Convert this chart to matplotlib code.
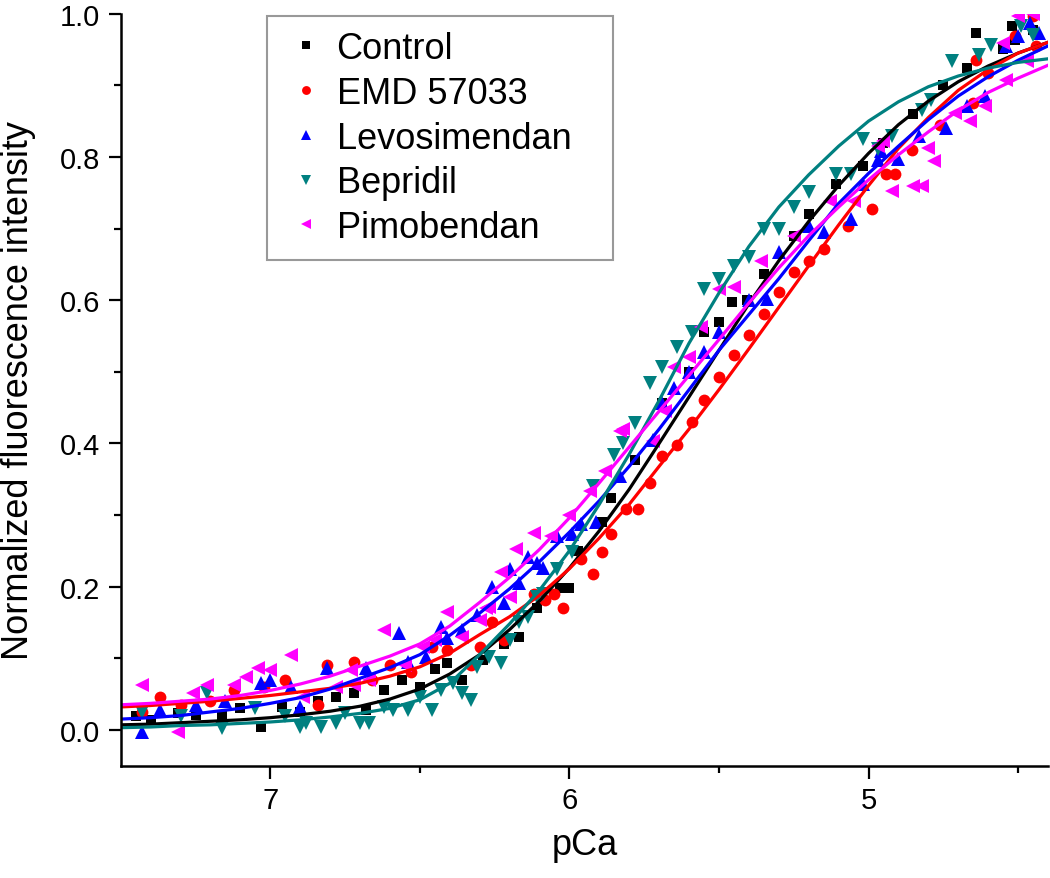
import matplotlib
matplotlib.use("Agg")
import matplotlib.pyplot as plt
from matplotlib.ticker import FixedLocator, FormatStrFormatter

plt.rcParams['font.family'] = ['Liberation Sans', 'DejaVu Sans']

# fitted curves on a 0.1 pCa grid
fit_pca = [7.5, 7.4, 7.3, 7.2, 7.1, 7.0, 6.9, 6.8, 6.7, 6.6, 6.5, 6.4, 6.3, 6.2, 6.1, 6.0,
           5.9, 5.8, 5.7, 5.6, 5.5, 5.4, 5.3, 5.2, 5.1, 5.0, 4.9, 4.8, 4.7, 4.6, 4.5, 4.4]
fit_control = [0.007, 0.008, 0.010, 0.012, 0.014, 0.017, 0.021, 0.026, 0.033, 0.043, 0.057, 0.078, 0.105, 0.14, 0.18, 0.226,
               0.278, 0.336, 0.40, 0.465, 0.53, 0.595, 0.655, 0.71, 0.76, 0.805, 0.845, 0.878, 0.905, 0.927, 0.945, 0.96]
fit_emd = [0.032, 0.034, 0.037, 0.040, 0.044, 0.048, 0.053, 0.058, 0.065, 0.075, 0.088, 0.107, 0.133, 0.158, 0.188, 0.225,
           0.268, 0.315, 0.368, 0.42, 0.475, 0.532, 0.59, 0.648, 0.705, 0.76, 0.812, 0.855, 0.893, 0.922, 0.945, 0.96]
fit_levo = [0.015, 0.017, 0.02, 0.025, 0.03, 0.037, 0.045, 0.057, 0.072, 0.087, 0.105, 0.132, 0.163, 0.197, 0.235, 0.276,
            0.32, 0.368, 0.42, 0.475, 0.53, 0.58, 0.63, 0.683, 0.735, 0.777, 0.815, 0.852, 0.885, 0.912, 0.935, 0.955]
fit_bep = [0.003, 0.004, 0.006, 0.007, 0.009, 0.011, 0.014, 0.018, 0.023, 0.03, 0.042, 0.065, 0.105, 0.148, 0.195, 0.25,
           0.315, 0.385, 0.46, 0.54, 0.61, 0.675, 0.73, 0.775, 0.815, 0.85, 0.877, 0.898, 0.913, 0.924, 0.932, 0.937]
fit_pimo = [0.035, 0.037, 0.04, 0.043, 0.048, 0.055, 0.064, 0.075, 0.089, 0.103, 0.12, 0.145, 0.178, 0.213, 0.252, 0.296,
            0.345, 0.395, 0.445, 0.495, 0.545, 0.596, 0.645, 0.69, 0.73, 0.768, 0.803, 0.835, 0.865, 0.89, 0.91, 0.928]

# measured points
control_x = [7.45, 7.40, 7.31, 7.25, 7.16, 7.10, 7.03, 6.96, 6.90, 6.84, 6.78, 6.72, 6.68, 6.62, 6.56, 6.50,
             6.45, 6.41, 6.36, 6.29, 6.22, 6.17, 6.11, 6.03, 6.00, 5.97, 5.89, 5.86, 5.78, 5.69, 5.60, 5.55,
             5.50, 5.455, 5.405, 5.35, 5.25, 5.20, 5.11, 5.02, 4.95, 4.85, 4.75, 4.67, 4.64, 4.55, 4.52, 4.51, 4.45]
control_y = [0.02, 0.014, 0.024, 0.021, 0.021, 0.03, 0.004, 0.032, 0.025, 0.04, 0.046, 0.052, 0.028, 0.055, 0.07, 0.06,
             0.085, 0.094, 0.07, 0.098, 0.12, 0.13, 0.17, 0.198, 0.198, 0.25, 0.29, 0.324, 0.377, 0.457, 0.50, 0.555,
             0.569, 0.598, 0.60, 0.636, 0.689, 0.72, 0.762, 0.787, 0.82, 0.86, 0.90, 0.924, 0.973, 0.95, 0.983, 0.963, 0.977]

emd_x = [7.43, 7.37, 7.30, 7.20, 7.12, 7.02, 6.95, 6.84, 6.81, 6.72, 6.66, 6.60, 6.53, 6.46, 6.41, 6.33, 6.30,
         6.26, 6.22, 6.12, 6.08, 6.05, 6.02, 5.96, 5.92, 5.89, 5.86, 5.81, 5.77, 5.73, 5.69, 5.64, 5.59, 5.55,
         5.50, 5.45, 5.40, 5.35, 5.30, 5.25, 5.20, 5.15, 5.07, 4.99, 4.94, 4.91, 4.855, 4.76, 4.65, 4.64, 4.60,
         4.51, 4.45, 4.44]
emd_y = [0.025, 0.046, 0.035, 0.04, 0.056, 0.06, 0.07, 0.035, 0.091, 0.095, 0.07, 0.091, 0.081, 0.116, 0.112, 0.091, 0.116,
         0.151, 0.126, 0.19, 0.182, 0.19, 0.17, 0.238, 0.217, 0.249, 0.273, 0.308, 0.308, 0.345, 0.382, 0.398, 0.43, 0.461,
         0.492, 0.524, 0.552, 0.58, 0.611, 0.64, 0.654, 0.671, 0.703, 0.727, 0.776, 0.776, 0.81, 0.844, 0.875, 0.935, 0.917,
         0.969, 0.997, 0.955]

levo_x = [7.43, 7.37, 7.25, 7.15, 7.03, 7.00, 6.93, 6.90, 6.81, 6.68, 6.57, 6.54, 6.48, 6.43, 6.41, 6.36, 6.31,
          6.26, 6.22, 6.20, 6.17, 6.14, 6.11, 6.09, 6.04, 5.99, 5.96, 5.91, 5.83, 5.72, 5.69, 5.65, 5.60, 5.55,
          5.50, 5.40, 5.34, 5.30, 5.20, 5.15, 5.06, 5.02, 4.97, 4.96, 4.90, 4.83, 4.74, 4.67, 4.61, 4.54, 4.50,
          4.46, 4.43]
levo_y = [-0.003, 0.028, 0.035, 0.04, 0.066, 0.07, 0.06, 0.032, 0.087, 0.087, 0.135, 0.095, 0.102, 0.144, 0.128, 0.14, 0.16,
          0.2, 0.177, 0.224, 0.205, 0.242, 0.233, 0.226, 0.27, 0.273, 0.287, 0.29, 0.354, 0.405, 0.457, 0.478, 0.50, 0.527,
          0.555, 0.60, 0.601, 0.667, 0.703, 0.695, 0.713, 0.762, 0.795, 0.808, 0.797, 0.829, 0.84, 0.871, 0.885, 0.955, 0.969,
          0.987, 0.973]

bep_x = [7.43, 7.30, 7.21, 7.16, 7.05, 6.95, 6.90, 6.88, 6.83, 6.78, 6.75, 6.70, 6.67, 6.62, 6.59, 6.54, 6.50,
         6.46, 6.43, 6.39, 6.36, 6.33, 6.31, 6.27, 6.23, 6.20, 6.17, 6.14, 6.11, 6.09, 6.04, 5.99, 5.92, 5.85,
         5.82, 5.78, 5.73, 5.69, 5.64, 5.59, 5.55, 5.50, 5.45, 5.40, 5.35, 5.30, 5.25, 5.20, 5.11, 5.06, 5.02,
         4.97, 4.92, 4.82, 4.79, 4.72, 4.63, 4.59, 4.49, 4.45]
bep_y = [0.025, 0.02, 0.052, 0.003, 0.03, 0.02, 0.004, 0.01, 0.004, 0.01, 0.024, 0.01, 0.01, 0.032, 0.028, 0.028, 0.046,
         0.028, 0.056, 0.066, 0.052, 0.042, 0.088, 0.102, 0.094, 0.126, 0.15, 0.158, 0.186, 0.19, 0.224, 0.249, 0.34, 0.384,
         0.40, 0.429, 0.485, 0.507, 0.534, 0.555, 0.615, 0.629, 0.647, 0.66, 0.699, 0.699, 0.73, 0.751, 0.776, 0.776, 0.825,
         0.811, 0.829, 0.865, 0.879, 0.934, 0.942, 0.956, 0.983, 0.97]

pimo_x = [7.43, 7.31, 7.26, 7.21, 7.12, 7.08, 7.04, 7.00, 6.93, 6.89, 6.78, 6.73, 6.72, 6.67, 6.62, 6.55, 6.49,
          6.45, 6.41, 6.36, 6.30, 6.28, 6.27, 6.23, 6.20, 6.18, 6.12, 6.06, 6.00, 5.93, 5.88, 5.83, 5.82, 5.72,
          5.68, 5.65, 5.60, 5.56, 5.50, 5.45, 5.36, 5.25, 5.13, 5.05, 4.97, 4.95, 4.92, 4.85, 4.82, 4.80, 4.78,
          4.71, 4.66, 4.61, 4.55, 4.54, 4.50, 4.47, 4.45]
pimo_y = [0.063, -0.003, 0.052, 0.063, 0.063, 0.074, 0.087, 0.084, 0.105, 0.046, 0.06, 0.084, 0.063, 0.07, 0.14, 0.09, 0.116,
          0.125, 0.164, 0.13, 0.154, 0.17, 0.172, 0.221, 0.186, 0.252, 0.275, 0.27, 0.30, 0.333, 0.361, 0.417, 0.42, 0.403,
          0.445, 0.507, 0.52, 0.562, 0.615, 0.619, 0.654, 0.69, 0.738, 0.738, 0.815, 0.822, 0.752, 0.759, 0.759, 0.812, 0.794,
          0.861, 0.85, 0.871, 0.959, 0.907, 0.997, 0.934, 1.0]

labels = ['Control', 'EMD 57033', 'Levosimendan', 'Bepridil', 'Pimobendan']
colors = ['black', '#ff0000', '#0000ff', '#008080', '#ff00ff']
markers = ['s', 'o', '^', 'v', '<']
msizes = [7.5, 8.5, 9.5, 9.5, 9.5]

points = [(control_x, control_y), (emd_x, emd_y), (levo_x, levo_y), (bep_x, bep_y), (pimo_x, pimo_y)]
fits = [fit_control, fit_emd, fit_levo, fit_bep, fit_pimo]

fig = plt.figure(figsize=(10.5, 8.79), dpi=100)
ax = fig.add_axes([0.115, 0.1278, 0.8831, 0.8555])

for (px, py), lab, c, m, ms in zip(points, labels, colors, markers, msizes):
    ax.plot(px, py, linestyle='none', marker=m, markersize=ms, color=c, markeredgewidth=0, label=lab)
for f, c in zip(fits, colors):
    ax.plot(fit_pca, f, color=c, linewidth=2.3, solid_joinstyle='round')

ax.set_xlim(7.5, 4.4)
ax.set_ylim(-0.05, 1.0)
ax.xaxis.set_major_locator(FixedLocator([7, 6, 5]))
ax.xaxis.set_minor_locator(FixedLocator([6.5, 5.5, 4.5]))
ax.yaxis.set_major_locator(FixedLocator([0.0, 0.2, 0.4, 0.6, 0.8, 1.0]))
ax.yaxis.set_minor_locator(FixedLocator([0.1, 0.3, 0.5, 0.7, 0.9]))
ax.yaxis.set_major_formatter(FormatStrFormatter('%.1f'))
ax.xaxis.set_major_formatter(FormatStrFormatter('%d'))

for s in ['top', 'right']:
    ax.spines[s].set_visible(False)
for s in ['left', 'bottom']:
    ax.spines[s].set_linewidth(1.8)
ax.tick_params(which='major', direction='out', length=9, width=1.6, labelsize=21, pad=6)
ax.tick_params(which='minor', direction='out', length=5, width=1.6)

ax.set_xlabel('pCa', fontsize=26)
ax.set_ylabel('Normalized fluorescence intensity', fontsize=26)
ax.xaxis.set_label_coords(0.5, -0.082)
ax.yaxis.set_label_coords(-0.091, 0.5)

leg = ax.legend(loc='upper left', bbox_to_anchor=(0.158, 0.0, 0.373, 0.997), mode='expand',
                fontsize=26, markerscale=0.75, handlelength=1.3, handletextpad=0.2,
                borderpad=0.42, labelspacing=0.27, borderaxespad=0, fancybox=False, frameon=True)
leg.get_frame().set_edgecolor('#808080')
leg.get_frame().set_linewidth(1.5)

fig.savefig('out.png', dpi=100)
